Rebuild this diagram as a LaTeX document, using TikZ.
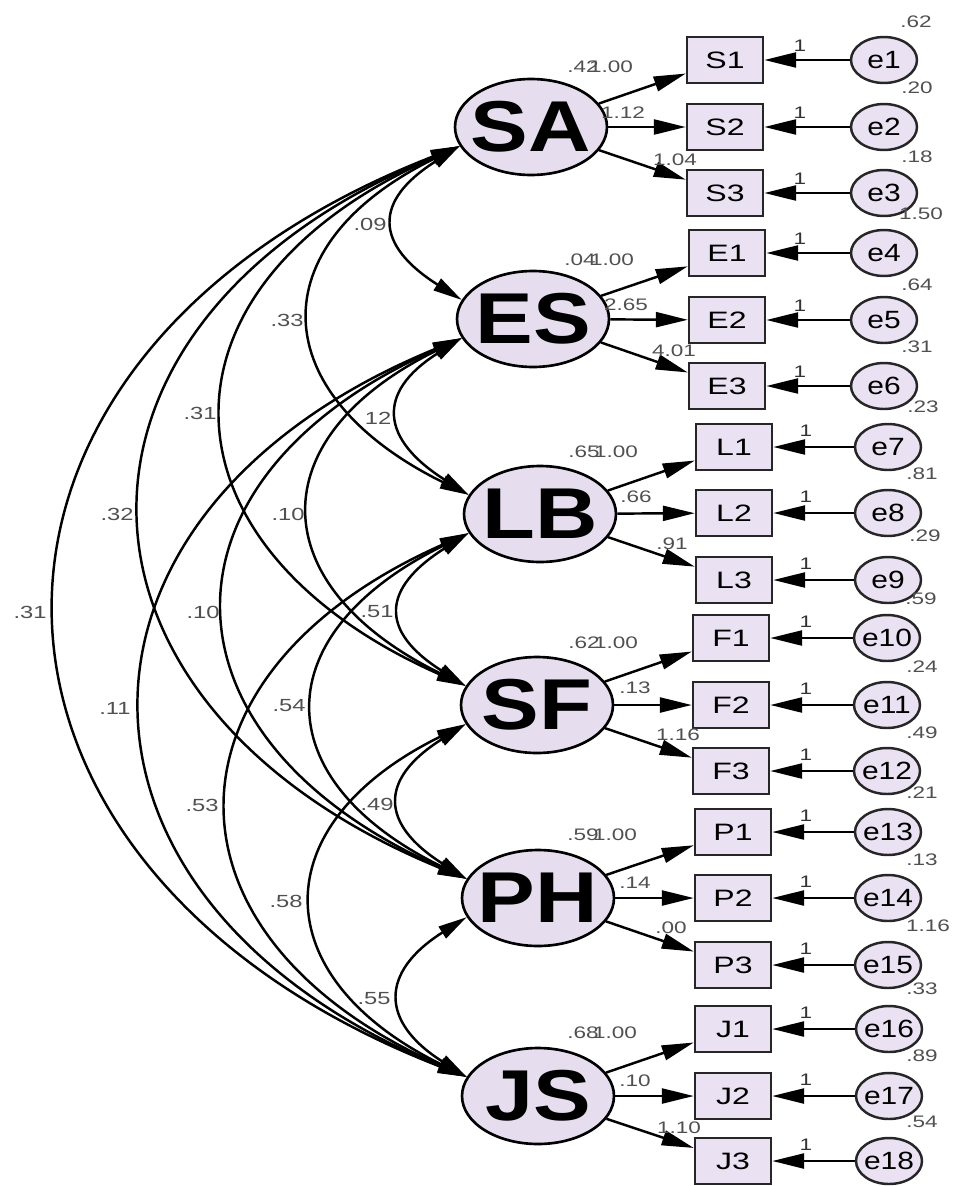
\documentclass[tikz,border=0pt]{standalone}
\usepackage{fontspec}
\setmainfont{Liberation Sans}
\usepackage{graphicx}
\usetikzlibrary{arrows.meta,shapes.geometric,calc}
\definecolor{latfill}{RGB}{230,222,238}
\definecolor{obsfill}{RGB}{234,226,242}
\definecolor{lblgray}{RGB}{80,80,80}
\newcommand{\latxt}[1]{\makebox[0pt]{\scalebox{1.2}[1]{\fontsize{41}{41}\selectfont\bfseries #1}}}
\newcommand{\obtxt}[1]{\makebox[0pt]{\scalebox{1.35}[1]{\fontsize{13.5}{14}\selectfont #1}}}
\newcommand{\ertxt}[1]{\makebox[0pt]{\scalebox{1.2}[1]{\fontsize{14.2}{15}\selectfont #1}}}
\newcommand{\smtxt}[1]{\scalebox{1.35}[1]{\fontsize{9.5}{10}\selectfont #1}}
\newcommand{\cvtxt}[1]{\scalebox{1.35}[1]{\fontsize{10}{11}\selectfont #1}}
\tikzset{
  latent/.style={ellipse, draw=black, line width=1.5pt, fill=latfill,
    minimum width=3.04cm, minimum height=1.92cm, inner sep=0pt},
  obsbox/.style={rectangle, draw=black!85, line width=1.4pt, fill=obsfill,
    minimum width=1.52cm, minimum height=0.92cm, inner sep=0pt},
  errc/.style={ellipse, draw=black!85, line width=1.4pt, fill=obsfill,
    minimum width=1.32cm, minimum height=0.92cm, inner sep=0pt},
  lbl/.style={text=lblgray, inner sep=0pt},
  onelbl/.style={text=black!80, inner sep=0pt},
  load/.style={line width=1.4pt, -{Triangle[length=0.64cm,width=0.3cm]}},
  cov/.style={line width=1.4pt,
    {Triangle[length=0.58cm,width=0.27cm]}-{Triangle[length=0.58cm,width=0.27cm]}},
}
\begin{document}
\begin{tikzpicture}[x=0.02cm, y=-0.02cm]
\useasboundingbox (0,0) rectangle (956,1186);

% latent variables
\node[latent] (SA) at (531,127) {\latxt{SA}};
\node[latent] (ES) at (533,319) {\latxt{ES}};
\node[latent] (LB) at (540,514) {\latxt{LB}};
\node[latent] (SF) at (537,705) {\latxt{SF}};
\node[latent] (PH) at (538,898) {\latxt{PH}};
\node[latent] (JS) at (538,1096) {\latxt{JS}};

% observed variables and errors
\foreach \o/\e/\ox/\ex/\y in {
  S1/e1/725/884/60, S2/e2/725/884/127, S3/e3/725/884/193,
  E1/e4/727/884/253, E2/e5/727/884/320, E3/e6/727/884/386,
  L1/e7/734/888/447, L2/e8/734/888/513, L3/e9/734/888/580,
  F1/e10/731/887/638, F2/e11/731/887/705, F3/e12/731/887/771,
  P1/e13/733/888/832, P2/e14/733/888/898, P3/e15/733/888/965,
  J1/e16/733/889/1029, J2/e17/733/889/1096, J3/e18/733/889/1161}{
  \node[obsbox] (\o) at (\ox,\y) {\obtxt{\o}};
  \node[errc] (\e) at (\ex,\y) {\ertxt{\e}};
  \draw[load] (\e) -- (\o);
}

% loadings
\draw[load] (SA) -- (S1); \draw[load] (SA) -- (S2); \draw[load] (SA) -- (S3);
\draw[load] (ES) -- (E1); \draw[load] (ES) -- (E2); \draw[load] (ES) -- (E3);
\draw[load] (LB) -- (L1); \draw[load] (LB) -- (L2); \draw[load] (LB) -- (L3);
\draw[load] (SF) -- (F1); \draw[load] (SF) -- (F2); \draw[load] (SF) -- (F3);
\draw[load] (PH) -- (P1); \draw[load] (PH) -- (P2); \draw[load] (PH) -- (P3);
\draw[load] (JS) -- (J1); \draw[load] (JS) -- (J2); \draw[load] (JS) -- (J3);

% covariances
\foreach \a/\b/\p/\q in {
  SA/ES/87/55, ES/LB/87/55, LB/SF/87/55, SF/PH/87/55, PH/JS/87/55,
  SA/LB/203/100, ES/SF/203/100, LB/PH/203/100, SF/JS/203/100,
  SA/SF/317/140, ES/PH/317/140, LB/JS/317/140,
  SA/PH/427/175, ES/JS/427/175,
  SA/JS/540/210}{
  \draw[cov] (\a.195) .. controls +(-\p,\q) and +(-\p,-\q) .. (\b.165);
}

% covariance labels
\foreach \t/\x/\y in {
  .09/370/224, 12/378/418, .51/377/612, .49/377/804, .55/374/999,
  .33/287/320, .10/288/514, .54/289/706, .58/286/901,
  .31/200/413, .10/203/612, .53/202/805,
  .32/117/514, .11/115/708,
  .31/30/612}{
  \node[lbl] at (\x,\y) {\cvtxt{\t}};
}

% loading labels (the first two of each group overlap, as printed)
\foreach \t/\x/\y in {
  1.00/611/67, .42/583/67, 1.12/623/113, 1.04/675/160,
  1.00/612/260, .04/580/260, 2.65/626/305, 4.01/674/351,
  1.00/616/452, .65/584/452, .66/636/497, .91/672/544,
  1.00/616/643, .62/584/643, .13/635/688, 1.16/678/735,
  1.00/615/835, .59/583/835, .14/635/883, .00/671/928,
  1.00/615/1033, .68/583/1033, .10/635/1081, 1.10/679/1128}{
  \node[lbl] at (\x,\y) {\smtxt{\t}};
}

% error variance labels
\foreach \t/\x/\y in {
  .62/916/22, .20/917/88, .18/917/157, 1.50/921/214,
  .64/917/285, .31/917/347, .23/923/407, .81/922/474,
  .29/925/536, .59/921/599, .24/922/667, .49/922/733,
  .21/922/793, .13/922/860, 1.16/928/926, .33/922/989,
  .89/922/1056, .54/922/1122}{
  \node[lbl] at (\x,\y) {\smtxt{\t}};
}

% fixed paths "1"
\foreach \x/\y in {
  800/46, 800/113, 800/179, 800/239, 800/306, 800/372,
  806/431, 806/497, 806/564, 806/622, 806/689, 806/755,
  806/816, 806/882, 806/949, 806/1013, 806/1080, 806/1145}{
  \node[onelbl] at (\x,\y) {\smtxt{1}};
}
\end{tikzpicture}
\end{document}
